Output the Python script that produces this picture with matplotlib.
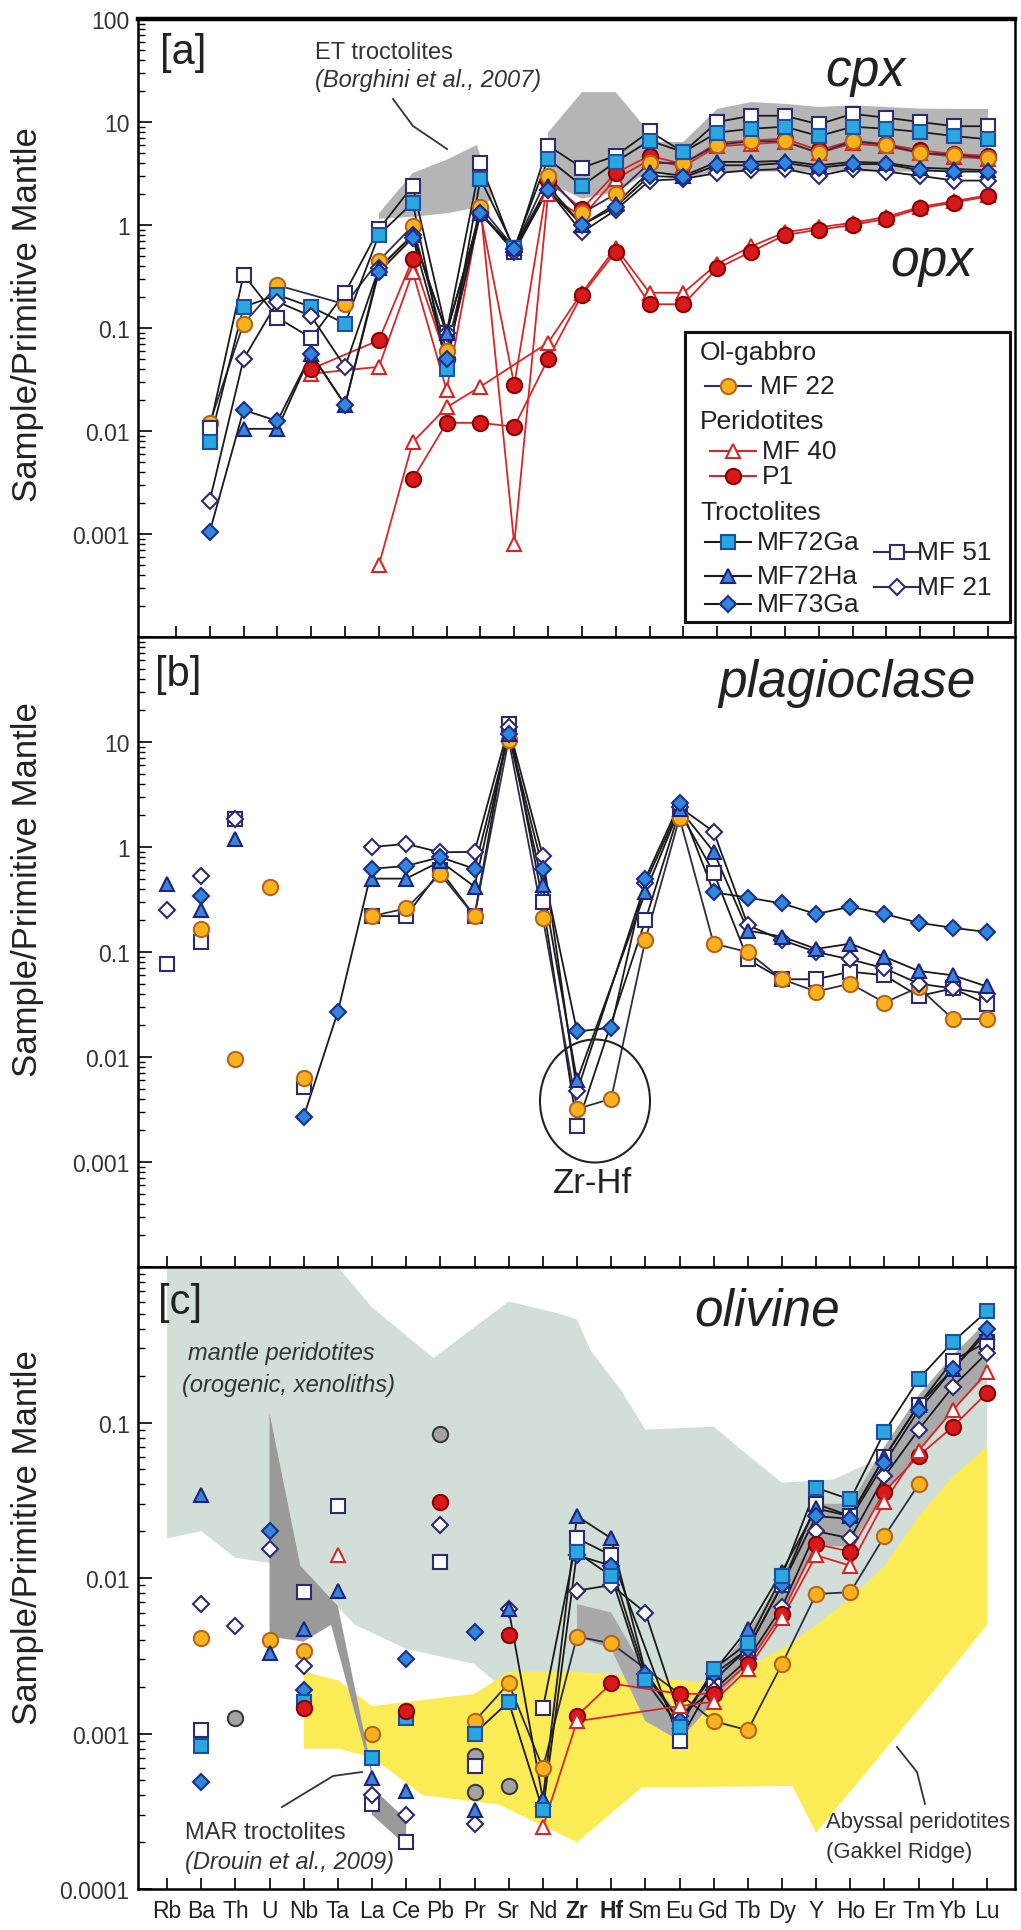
import numpy as np
import matplotlib
matplotlib.use('Agg')
import matplotlib.pyplot as plt
from matplotlib.patches import Ellipse, Rectangle
from matplotlib.lines import Line2D
from matplotlib.ticker import FixedLocator, LogLocator, NullFormatter, FuncFormatter

plt.rcParams['font.family'] = ['Liberation Sans', 'DejaVu Sans']

nan = np.nan
elements = ['Rb', 'Ba', 'Th', 'U', 'Nb', 'Ta', 'La', 'Ce', 'Pb', 'Pr', 'Sr', 'Nd', 'Zr', 'Hf',
            'Sm', 'Eu', 'Gd', 'Tb', 'Dy', 'Y', 'Ho', 'Er', 'Tm', 'Yb', 'Lu']

# ---------------- panel a : clinopyroxene / orthopyroxene ----------------
cpx_MF22 = [nan, 0.012, 0.11, 0.26, nan, 0.17, 0.45, 0.98, 0.06, 1.5, 0.6, 3.0, 1.3, 2.0, 4.0, 4.0, 6.0, 6.5, 6.5, 5.0, 6.5, 6.0, 5.0, 4.8, 4.5]
cpx_MF40 = [nan, nan, nan, nan, 0.036, nan, 0.042, 0.35, 0.025, 1.5, 0.0008, 2.0, 1.2, 2.8, 4.3, 3.7, 5.8, 6.1, 6.4, 5.0, 6.2, 5.8, 5.0, 4.6, 4.4]
cpx_P1 = [nan, nan, nan, nan, 0.04, nan, 0.076, 0.47, 0.05, 1.3, 0.028, 2.7, 1.43, 3.2, 4.7, 3.9, 6.3, 6.6, 6.9, 5.3, 6.6, 6.1, 5.3, 4.9, 4.7]
cpx_MF72Ga = [nan, 0.0079, 0.16, 0.21, 0.16, 0.11, 0.8, 1.65, 0.04, 2.8, 0.6, 4.4, 2.4, 4.1, 6.6, 5.1, 7.9, 8.6, 9.0, 7.3, 9.0, 8.6, 8.0, 7.3, 6.8]
cpx_MF72Ha = [nan, nan, 0.0105, 0.0105, 0.056, 0.018, 0.38, 0.8, 0.09, 1.3, 0.6, 2.4, 1.0, 1.6, 3.3, 3.0, 4.1, 4.1, 4.2, 3.8, 4.1, 4.0, 3.6, 3.5, 3.4]
cpx_MF73Ga = [nan, 0.00105, 0.016, 0.0125, 0.056, 0.018, 0.35, 0.75, 0.05, 1.3, 0.58, 2.2, 1.0, 1.5, 3.0, 2.9, 3.8, 3.8, 4.0, 3.6, 3.9, 3.9, 3.4, 3.3, 3.3]
cpx_MF51 = [nan, 0.0107, 0.33, 0.126, 0.08, 0.22, 0.91, 2.4, 0.09, 4.0, 0.55, 5.9, 3.6, 4.7, 8.1, 5.1, 10.0, 11.5, 11.5, 9.5, 12.0, 11.0, 10.0, 9.1, 9.1]
cpx_MF21 = [nan, 0.0021, 0.05, 0.18, 0.13, 0.042, 0.38, 0.8, 0.09, 1.3, 0.55, 2.2, 0.85, 1.4, 2.7, 2.8, 3.2, 3.4, 3.5, 3.0, 3.5, 3.3, 3.0, 2.7, 2.7]
opx_MF40 = [nan, nan, nan, nan, nan, nan, 0.0005, 0.0078, 0.017, 0.027, nan, 0.072, 0.22, 0.6, 0.22, 0.22, 0.42, 0.62, 0.85, 0.95, 1.05, 1.2, 1.5, 1.7, 1.95]
opx_P1 = [nan, nan, nan, nan, nan, nan, nan, 0.0034, 0.012, 0.012, 0.011, 0.05, 0.21, 0.55, 0.17, 0.17, 0.38, 0.55, 0.8, 0.9, 1.0, 1.15, 1.45, 1.65, 1.9]

# ET troctolites cpx field (Borghini et al., 2007)
et1_x = [6, 7, 8, 8.9, 9.35, 9, 8, 7, 6]
et1_y = [1.3, 3.2, 4.3, 6.0, 1.8, 1.5, 1.3, 1.2, 1.15]
et2_x = [11, 12, 13, 14, 14.3, 15, 16, 17, 18, 19, 20, 21, 22, 23, 24,
         24, 23, 22, 21, 20, 19, 18, 17, 16, 15, 14, 13, 12, 11]
et2_y = [7.9, 19.5, 19.5, 7.9, 6.4, 6.4, 13.4, 15.6, 15.0, 14.0, 14.5, 14.0, 13.5, 13.4, 13.4,
         3.3, 3.3, 3.3, 3.3, 3.3, 3.3, 3.3, 3.3, 3.3, 2.8, 3.3, 2.1, 1.8, 2.6]

# ---------------- panel b : plagioclase ----------------
pl_MF22 = [nan, 0.165, 0.0095, 0.42, 0.0063, nan, 0.22, 0.26, 0.55, 0.22, 10.5, 0.21, 0.0032, 0.004, 0.13, 1.9, 0.12, 0.1, 0.055, 0.042, 0.05, 0.033, 0.046, 0.023, 0.023]
pl_MF72Ha = [0.44, 0.25, 1.2, nan, nan, nan, 0.5, 0.5, 0.73, 0.42, 12.0, 0.43, 0.006, nan, 0.37, 2.3, 0.9, 0.16, 0.14, 0.107, 0.12, 0.09, 0.066, 0.06, 0.047]
pl_MF73Ga = [nan, 0.34, nan, nan, 0.0027, 0.027, 0.62, 0.66, 0.8, 0.62, 12.0, 0.62, 0.0175, 0.019, 0.5, 2.6, 0.37, 0.33, 0.29, 0.23, 0.27, 0.23, 0.19, 0.17, 0.155]
pl_MF51 = [0.077, 0.125, 1.85, nan, 0.0052, nan, 0.22, 0.22, 0.6, 0.22, 15.0, 0.3, 0.0022, nan, 0.2, 2.2, 0.57, 0.085, 0.055, 0.055, 0.065, 0.06, 0.038, 0.045, 0.032]
pl_MF21 = [0.25, 0.53, 1.85, nan, nan, nan, 1.0, 1.07, 0.89, 0.9, 14.0, 0.82, 0.0047, nan, 0.45, 2.4, 1.4, 0.18, 0.13, 0.1, 0.085, 0.07, 0.05, 0.045, 0.04]

# ---------------- panel c : olivine ----------------
ol_MF22 = [nan, 0.0041, nan, 0.004, 0.0034, nan, 0.001, nan, nan, 0.0012, 0.0021, 0.0006, 0.0042, 0.0038, nan, 0.0018, 0.0012, 0.00105, 0.0028, 0.0079, 0.0081, 0.0186, 0.04, nan, nan]
ol_MF40 = [nan, nan, nan, nan, nan, 0.014, nan, nan, nan, nan, nan, 0.00025, 0.0012, nan, nan, 0.0015, 0.0016, 0.0026, 0.0055, 0.014, 0.012, 0.031, 0.066, 0.12, 0.21]
ol_P1 = [nan, nan, nan, nan, 0.00145, nan, nan, 0.0014, 0.031, nan, 0.0043, nan, 0.0013, 0.0021, nan, 0.0018, 0.0018, 0.0028, 0.0059, 0.0165, 0.0148, 0.036, 0.061, 0.094, 0.155]
ol_MF72Ga = [nan, 0.00083, nan, nan, 0.0016, nan, 0.0007, 0.00126, nan, 0.001, 0.0016, 0.00032, 0.0146, 0.0103, 0.0022, 0.0011, 0.0026, 0.0038, 0.0103, 0.038, 0.032, 0.087, 0.19, 0.33, 0.52]
ol_MF72Ha = [nan, 0.034, nan, 0.0033, 0.0047, 0.0083, 0.00052, 0.00043, nan, 0.00032, 0.0063, 0.00038, 0.025, 0.018, 0.0025, 0.0012, 0.0025, 0.0047, 0.011, 0.028, 0.025, 0.06, 0.13, 0.22, 0.38]
ol_MF73Ga = [nan, 0.00049, nan, 0.02, 0.0019, nan, nan, 0.003, nan, 0.0045, nan, nan, 0.014, 0.012, 0.0024, 0.0012, 0.0024, 0.0035, 0.009, 0.025, 0.024, 0.055, 0.12, 0.22, 0.4]
ol_MF51 = [nan, 0.00105, nan, nan, 0.0081, 0.029, 0.00035, 0.0002, 0.0127, 0.00062, nan, 0.00145, 0.018, 0.014, nan, 0.0009, 0.0022, 0.0035, 0.009, 0.03, 0.025, 0.06, 0.13, 0.25, 0.33]
ol_MF21 = [nan, 0.0068, 0.0049, 0.0154, 0.0027, nan, 0.0004, 0.0003, 0.022, 0.00026, 0.0063, nan, 0.0083, 0.009, 0.006, 0.0013, 0.0019, 0.003, 0.0065, 0.02, 0.018, 0.045, 0.09, 0.17, 0.28]
ol_other1 = [nan, nan, 0.00126, nan, nan, nan, nan, nan, 0.084, 0.00072, 0.00046, nan, nan, nan, nan, nan, nan, nan, nan, nan, nan, nan, nan, nan, nan]
ol_other2 = [nan, nan, nan, nan, nan, nan, nan, nan, nan, 0.00042, nan, nan, nan, nan, nan, nan, nan, nan, nan, nan, nan, nan, nan, nan, nan]

# fields in panel c
mantle_x = [0, 5, 6, 7.8, 10, 11.5, 12, 12.4, 13.3, 14, 16, 16.8, 18, 19.5, 20.8, 21.9, 22.9, 24,
            24, 22.5, 21, 19, 17, 15, 13, 11.5, 10, 9, 7, 5.5, 5, 4, 3, 2, 1, 0]
mantle_y = [1.0, 1.0, 0.55, 0.26, 0.6, 0.5, 0.46, 0.29, 0.16, 0.09, 0.094, 0.067, 0.041, 0.043, 0.058, 0.12, 0.2, 0.32,
            0.06, 0.02, 0.007, 0.003, 0.0022, 0.0012, 0.0013, 0.0012, 0.0018, 0.0028, 0.0035, 0.005, 0.0065, 0.0105, 0.0125, 0.0135, 0.02, 0.018]
abyssal_x = [4, 5, 6, 9, 10, 11, 12, 15, 16, 17, 18, 19, 20, 21, 22, 23, 24,
             24, 22.7, 19, 18.3, 13.9, 12, 9.7, 7.5, 6, 5, 4]
abyssal_y = [0.0025, 0.0022, 0.0015, 0.0018, 0.0025, 0.0025, 0.0025, 0.0022, 0.0021, 0.0027, 0.0035, 0.005, 0.0074, 0.012, 0.025, 0.045, 0.07,
             0.005, 0.0022, 0.00023, 0.00046, 0.00045, 0.0002, 0.00035, 0.0004, 0.0007, 0.0008, 0.0008]
mar1_x = [3.0, 3.9, 5.0, 6.1, 5.85, 4.8, 4.0, 3.0]
mar1_y = [0.115, 0.012, 0.0066, 0.00045, 0.0007, 0.005, 0.0039, 0.0042]
mar2_x = [6.0, 7.0, 7.0, 6.0]
mar2_y = [0.00045, 0.00028, 0.00019, 0.0003]
olband_x = [12, 13, 14, 15, 16, 17, 18, 19, 20, 21, 22, 23, 24,
            24, 23, 22, 21, 20, 19, 18, 17, 16, 15, 14, 13, 12]
olband_y = [0.0068, 0.006, 0.0025, 0.0013, 0.0024, 0.0045, 0.01, 0.03, 0.03, 0.07, 0.15, 0.27, 0.45,
            0.2, 0.12, 0.065, 0.035, 0.016, 0.016, 0.006, 0.0028, 0.0016, 0.0009, 0.0012, 0.0035, 0.0042]

# ---------------- styles ----------------
LW = 1.3
styles = {
    'MF 22': dict(marker='o', mfc='#f9b21b', mec='#b5651d', ms=11, lc='#2d2d4a'),
    'MF 40': dict(marker='^', mfc='white', mec='#d62728', ms=10, lc='#d62728'),
    'P1': dict(marker='o', mfc='#d7191c', mec='#8b0000', ms=11, lc='#d62728'),
    'MF72Ga': dict(marker='s', mfc='#2aa7e1', mec='#1d4fa0', ms=9.5, lc='#1a1a1a'),
    'MF72Ha': dict(marker='^', mfc='#3b82d9', mec='#1a237e', ms=10, lc='#1a1a1a'),
    'MF73Ga': dict(marker='D', mfc='#2f86dd', mec='#1a2f8a', ms=8, lc='#1a1a1a'),
    'MF 51': dict(marker='s', mfc='white', mec='#2e2a70', ms=9.5, lc='#1a1a1a'),
    'MF 21': dict(marker='D', mfc='white', mec='#2e2a70', ms=8, lc='#1a1a1a'),
    'other': dict(marker='o', mfc='#a3a3a3', mec='#3a3a3a', ms=11, lc='none'),
}


def draw(ax, vals, key, start=0, z=4):
    st = styles[key]
    y = np.array(vals, dtype=float)
    x = np.arange(len(y))
    m = np.isfinite(y)
    lm = m & (x >= start)
    if st['lc'] != 'none' and lm.sum() > 1:
        ax.plot(x[lm], y[lm], color=st['lc'], lw=LW, zorder=z)
    ax.plot(x[m], y[m], ls='none', marker=st['marker'], mfc=st['mfc'], mec=st['mec'],
            ms=st['ms'], mew=1.5, zorder=z + 0.5)


fig = plt.figure(figsize=(10.21, 19.31), dpi=100)
L, W = 0.13516, 0.85896
axa = fig.add_axes([L, 0.6696, W, 0.32004])
axb = fig.add_axes([L, 0.34334, W, 0.32626])
axc = fig.add_axes([L, 0.02123, W, 0.32211])

for ax, lo, hi, xl, labs in [(axa, 1e-4, 100, (-1.12, 24.8), [1e-3, 1e-2, 1e-1, 1, 10, 100]),
                             (axb, 1e-4, 100, (-0.85, 24.82), [1e-3, 1e-2, 1e-1, 1, 10]),
                             (axc, 1e-4, 1, (-0.85, 24.82), [1e-4, 1e-3, 1e-2, 1e-1])]:
    ax.set_yscale('log')
    ax.set_ylim(lo, hi)
    ax.set_xlim(*xl)
    majors = [10.0 ** k for k in range(int(round(np.log10(lo))), int(round(np.log10(hi))) + 1)]
    ax.yaxis.set_major_locator(FixedLocator(majors))
    ax.yaxis.set_major_formatter(FuncFormatter(lambda v, p, labs=labs: ('%g' % v) if any(abs(v / l - 1) < 1e-6 for l in labs) else ''))
    ax.yaxis.set_minor_locator(LogLocator(base=10, subs=range(2, 10), numticks=30))
    ax.yaxis.set_minor_formatter(NullFormatter())
    ax.set_xticks(range(len(elements)))
    ax.tick_params(axis='y', which='major', direction='in', length=10, width=1.2,
                   labelsize=16.5, labelcolor='#333333', pad=6)
    ax.tick_params(axis='y', which='minor', direction='in', length=5, width=1.0)
    ax.tick_params(axis='x', which='major', direction='in', length=8, width=1.2, pad=7)
    ax.tick_params(axis='x', which='minor', bottom=False)
    for s in ax.spines.values():
        s.set_linewidth(1.8)
    ax.set_ylabel('Sample/Primitive Mantle', fontsize=25, color='#222222')

axa.yaxis.set_label_coords(-0.107, 0.523)
axb.yaxis.set_label_coords(-0.107, 0.60)
axc.yaxis.set_label_coords(-0.107, 0.566)
axa.spines['top'].set_linewidth(3.2)
axa.tick_params(axis='x', labelbottom=False)
axb.tick_params(axis='x', labelbottom=False)
axc.set_xticklabels(elements, fontsize=16.5, color='#222222')
for t in axc.get_xticklabels():
    if t.get_text() in ('Zr', 'Hf'):
        t.set_fontweight('bold')

# ---------- panel a ----------
axa.fill(et1_x, et1_y, color='#b5b5b5', lw=0, zorder=1)
axa.fill(et2_x, et2_y, color='#b5b5b5', lw=0, zorder=1)
draw(axa, opx_MF40, 'MF 40')
draw(axa, opx_P1, 'P1')
draw(axa, cpx_MF40, 'MF 40')
draw(axa, cpx_P1, 'P1')
draw(axa, cpx_MF22, 'MF 22')
draw(axa, cpx_MF51, 'MF 51')
draw(axa, cpx_MF72Ga, 'MF72Ga')
draw(axa, cpx_MF21, 'MF 21')
draw(axa, cpx_MF72Ha, 'MF72Ha')
draw(axa, cpx_MF73Ga, 'MF73Ga')

T = axa.transAxes
fx = lambda x: (x - 138) / 877.0
fya = lambda y: (638 - y) / 618.0
fyb = lambda y: (1268 - y) / 630.0
fyc = lambda y: (1890 - y) / 622.0

axa.text(fx(183), fya(53), '[a]', transform=T, fontsize=30, ha='center', va='center', color='#222222')
axa.text(fx(315), fya(53), 'ET troctolites', transform=T, fontsize=17, ha='left', va='center', color='#333333')
axa.text(fx(315), fya(80), '(Borghini et al., 2007)', transform=T, fontsize=17, style='italic',
         ha='left', va='center', color='#333333')
axa.plot([fx(393), fx(413), fx(447)], [fya(100), fya(127), fya(150)], transform=T, color='#333333', lw=1.3, zorder=6)
axa.text(fx(865), fya(72), 'cpx', transform=T, fontsize=37, style='italic', ha='center', va='center', color='#222222')
axa.text(fx(932), fya(262), 'opx', transform=T, fontsize=37, style='italic', ha='center', va='center', color='#222222')

# legend box
axa.add_patch(Rectangle((fx(685), fya(623)), fx(1010) - fx(685), fya(333) - fya(623), transform=T,
                        facecolor='white', edgecolor='#111111', lw=2.2, zorder=10))
for txt, y in [('Ol-gabbro', 353), ('Peridotites', 422), ('Troctolites', 513)]:
    axa.text(fx(700), fya(y), txt, transform=T, fontsize=19, ha='left', va='center', color='#222222', zorder=11)
for key, gx, gy, tx in [('MF 22', 728, 387, 760), ('MF 40', 733, 452, 762), ('P1', 733, 477, 762),
                        ('MF72Ga', 728, 543, 757), ('MF72Ha', 728, 577, 757), ('MF73Ga', 728, 605, 757),
                        ('MF 51', 897, 553, 917), ('MF 21', 897, 588, 917)]:
    st = styles[key]
    lcol = '#2d2d6a' if key in ('MF 22', 'MF 51', 'MF 21') else st['lc']
    axa.add_line(Line2D([fx(gx - 23), fx(gx + 23)], [fya(gy), fya(gy)], transform=T, color=lcol,
                        lw=1.5, zorder=11))
    axa.add_line(Line2D([fx(gx)], [fya(gy)], transform=T, ls='none', marker=st['marker'], mfc=st['mfc'],
                        mec=st['mec'], ms=st['ms'], mew=1.5, zorder=12))
    axa.text(fx(tx), fya(gy), key, transform=T, fontsize=19, ha='left', va='center', color='#222222', zorder=11)

# ---------- panel b ----------
Tb = axb.transAxes
draw(axb, pl_MF51, 'MF 51', start=6)
draw(axb, pl_MF22, 'MF 22', start=6)
draw(axb, pl_MF21, 'MF 21', start=6)
draw(axb, pl_MF72Ha, 'MF72Ha', start=6)
draw(axb, pl_MF73Ga, 'MF73Ga', start=4)
axb.add_patch(Ellipse((fx(595), fyb(1102)), 110 / 877.0, 123 / 630.0, transform=Tb, fill=False,
                      edgecolor='#222222', lw=1.5, zorder=6))
axb.text(fx(593), fyb(1183), 'Zr-Hf', transform=Tb, fontsize=25, ha='center', va='center', color='#222222')
axb.text(fx(178), fyb(675), '[b]', transform=Tb, fontsize=30, ha='center', va='center', color='#222222')
axb.text(fx(847), fyb(683), 'plagioclase', transform=Tb, fontsize=37, style='italic', ha='center', va='center', color='#222222')

# ---------- panel c ----------
Tc = axc.transAxes
axc.fill(mantle_x, mantle_y, color='#d2ded8', lw=0, zorder=1)
axc.fill(abyssal_x, abyssal_y, color='#fbec55', lw=0, zorder=1.2)
axc.fill(mar1_x, mar1_y, color='#9a9a9a', lw=0, zorder=1.4)
axc.fill(mar2_x, mar2_y, color='#9a9a9a', lw=0, zorder=1.4)
axc.fill(olband_x, olband_y, color='#a9a9a9', lw=0, zorder=1.4)
draw(axc, ol_other1, 'other', start=99)
draw(axc, ol_other2, 'other', start=99)
draw(axc, ol_MF22, 'MF 22', start=9)
draw(axc, ol_MF51, 'MF 51', start=11)
draw(axc, ol_MF21, 'MF 21', start=12)
draw(axc, ol_MF72Ha, 'MF72Ha', start=10)
draw(axc, ol_MF73Ga, 'MF73Ga', start=12)
draw(axc, ol_MF72Ga, 'MF72Ga', start=9)
draw(axc, ol_P1, 'P1', start=12)
draw(axc, ol_MF40, 'MF 40', start=11)

axc.text(fx(180), fyc(1303), '[c]', transform=Tc, fontsize=30, ha='center', va='center', color='#222222')
axc.text(fx(767), fyc(1312), 'olivine', transform=Tc, fontsize=37, style='italic', ha='center', va='center', color='#222222')
axc.text(fx(188), fyc(1353), 'mantle peridotites', transform=Tc, fontsize=17, style='italic', ha='left', va='center', color='#333333')
axc.text(fx(182), fyc(1385), '(orogenic, xenoliths)', transform=Tc, fontsize=17, style='italic', ha='left', va='center', color='#333333')
axc.text(fx(185), fyc(1833), 'MAR troctolites', transform=Tc, fontsize=17, ha='left', va='center', color='#333333')
axc.text(fx(185), fyc(1862), '(Drouin et al., 2009)', transform=Tc, fontsize=17, style='italic', ha='left', va='center', color='#333333')
axc.plot([fx(282), fx(333), fx(362)], [fyc(1808), fyc(1777), fyc(1773)], transform=Tc, color='#333333', lw=1.3, zorder=6)
axc.text(fx(826), fyc(1822), 'Abyssal peridotites', transform=Tc, fontsize=15.8, ha='left', va='center', color='#333333', zorder=7)
axc.text(fx(826), fyc(1852), '(Gakkel Ridge)', transform=Tc, fontsize=15.8, ha='left', va='center', color='#333333')
axc.plot([fx(897), fx(917), fx(925)], [fyc(1748), fyc(1773), fyc(1805)], transform=Tc, color='#333333', lw=1.3, zorder=6)

fig.savefig('out.png', dpi=100)
